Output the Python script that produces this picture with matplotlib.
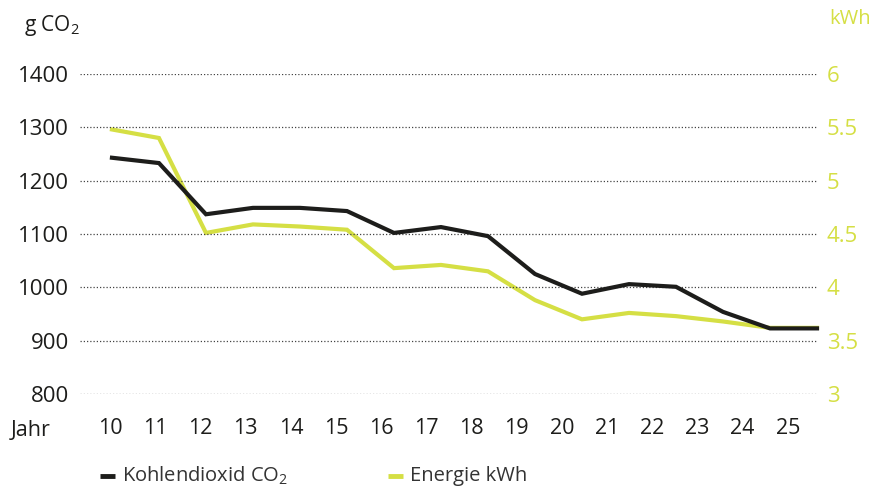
import numpy as np
import matplotlib
matplotlib.use('Agg')
import matplotlib.pyplot as plt
from matplotlib.lines import Line2D

plt.rcParams['font.family'] = ['Open Sans', 'DejaVu Sans']
plt.rcParams['mathtext.fontset'] = 'custom'
plt.rcParams['mathtext.rm'] = 'Open Sans'

# Daten
jahre = ['10', '11', '12', '13', '14', '15', '16', '17', '18', '19', '20', '21', '22', '23', '24', '25']
co2 = [1243, 1233, 1137, 1149, 1149, 1143, 1102, 1113, 1096, 1025, 988, 1006, 1001, 954, 923, 923]
kwh = [5.48, 5.40, 4.51, 4.59, 4.57, 4.54, 4.18, 4.21, 4.15, 3.88, 3.70, 3.76, 3.73, 3.68, 3.62, 3.62]
y_links = [800, 900, 1000, 1100, 1200, 1300, 1400]
y_rechts = ['3', '3.5', '4', '4.5', '5', '5.5', '6']
legende = [r'Kohlendioxid CO$_2$', 'Energie kWh']

schwarz = '#1d1d1b'
gelb = '#d5df44'

fig = plt.figure(figsize=(8.85, 4.94), dpi=100)
ax = fig.add_axes([80/885, 100/494, 737/885, 320/494])
ax2 = ax.twinx()

x = np.arange(len(jahre))
ax2.plot(x, kwh, color=gelb, lw=3, solid_joinstyle='miter', clip_on=False, zorder=2)
ax.plot(x, co2, color=schwarz, lw=3, solid_joinstyle='miter', clip_on=False, zorder=3)
ax.set_zorder(ax2.get_zorder() + 1)
ax.patch.set_visible(False)

ax.set_xlim(-0.68, 15)
ax.set_ylim(800, 1400)
ax2.set_ylim(3, 6)

ax.set_yticks(y_links)
ax.set_yticklabels([str(v) for v in y_links])
ax2.set_yticks(np.linspace(3, 6, 7))
ax2.set_yticklabels(y_rechts)

# Beschriftungen der x-Achse sind etwas enger gesetzt als die Datenpunkte
ax.set_xticks(np.linspace(-0.04, 14.38, len(jahre)))
ax.set_xticklabels(jahre)

ax.grid(axis='y', linestyle=(0, (1, 1.6)), color='#444444', lw=0.9)
ax.grid(axis='x', visible=False)
for a in (ax, ax2):
    for s in a.spines.values():
        s.set_visible(False)
ax.tick_params(axis='y', length=0, pad=8, labelsize=16, labelcolor=schwarz)
ax.tick_params(axis='x', length=0, pad=17, labelsize=15.5, labelcolor=schwarz)
ax2.tick_params(axis='y', length=0, pad=7, labelsize=16, labelcolor=gelb)

fig.text(24/885, 1 - 25/494, r'g CO$_2$', fontsize=15, color=schwarz, va='center', ha='left')
fig.text(871/885, 1 - 19/494, 'kWh', fontsize=14.5, color=gelb, va='center', ha='right')
fig.text(11/885, 1 - 431/494, 'Jahr', fontsize=15.5, color=schwarz, va='center', ha='left')

# Legende
y_leg = 1 - 476/494
for (x0, farbe, label) in [(100, schwarz, legende[0]), (388, gelb, legende[1])]:
    fig.add_artist(Line2D([x0/885, (x0 + 15)/885], [y_leg, y_leg], transform=fig.transFigure,
                          color=farbe, lw=3.5, solid_capstyle='butt'))
    fig.text((x0 + 22)/885, y_leg, label, fontsize=14.5, color='#333333', va='center', ha='left')

fig.savefig('out.png', dpi=100)
